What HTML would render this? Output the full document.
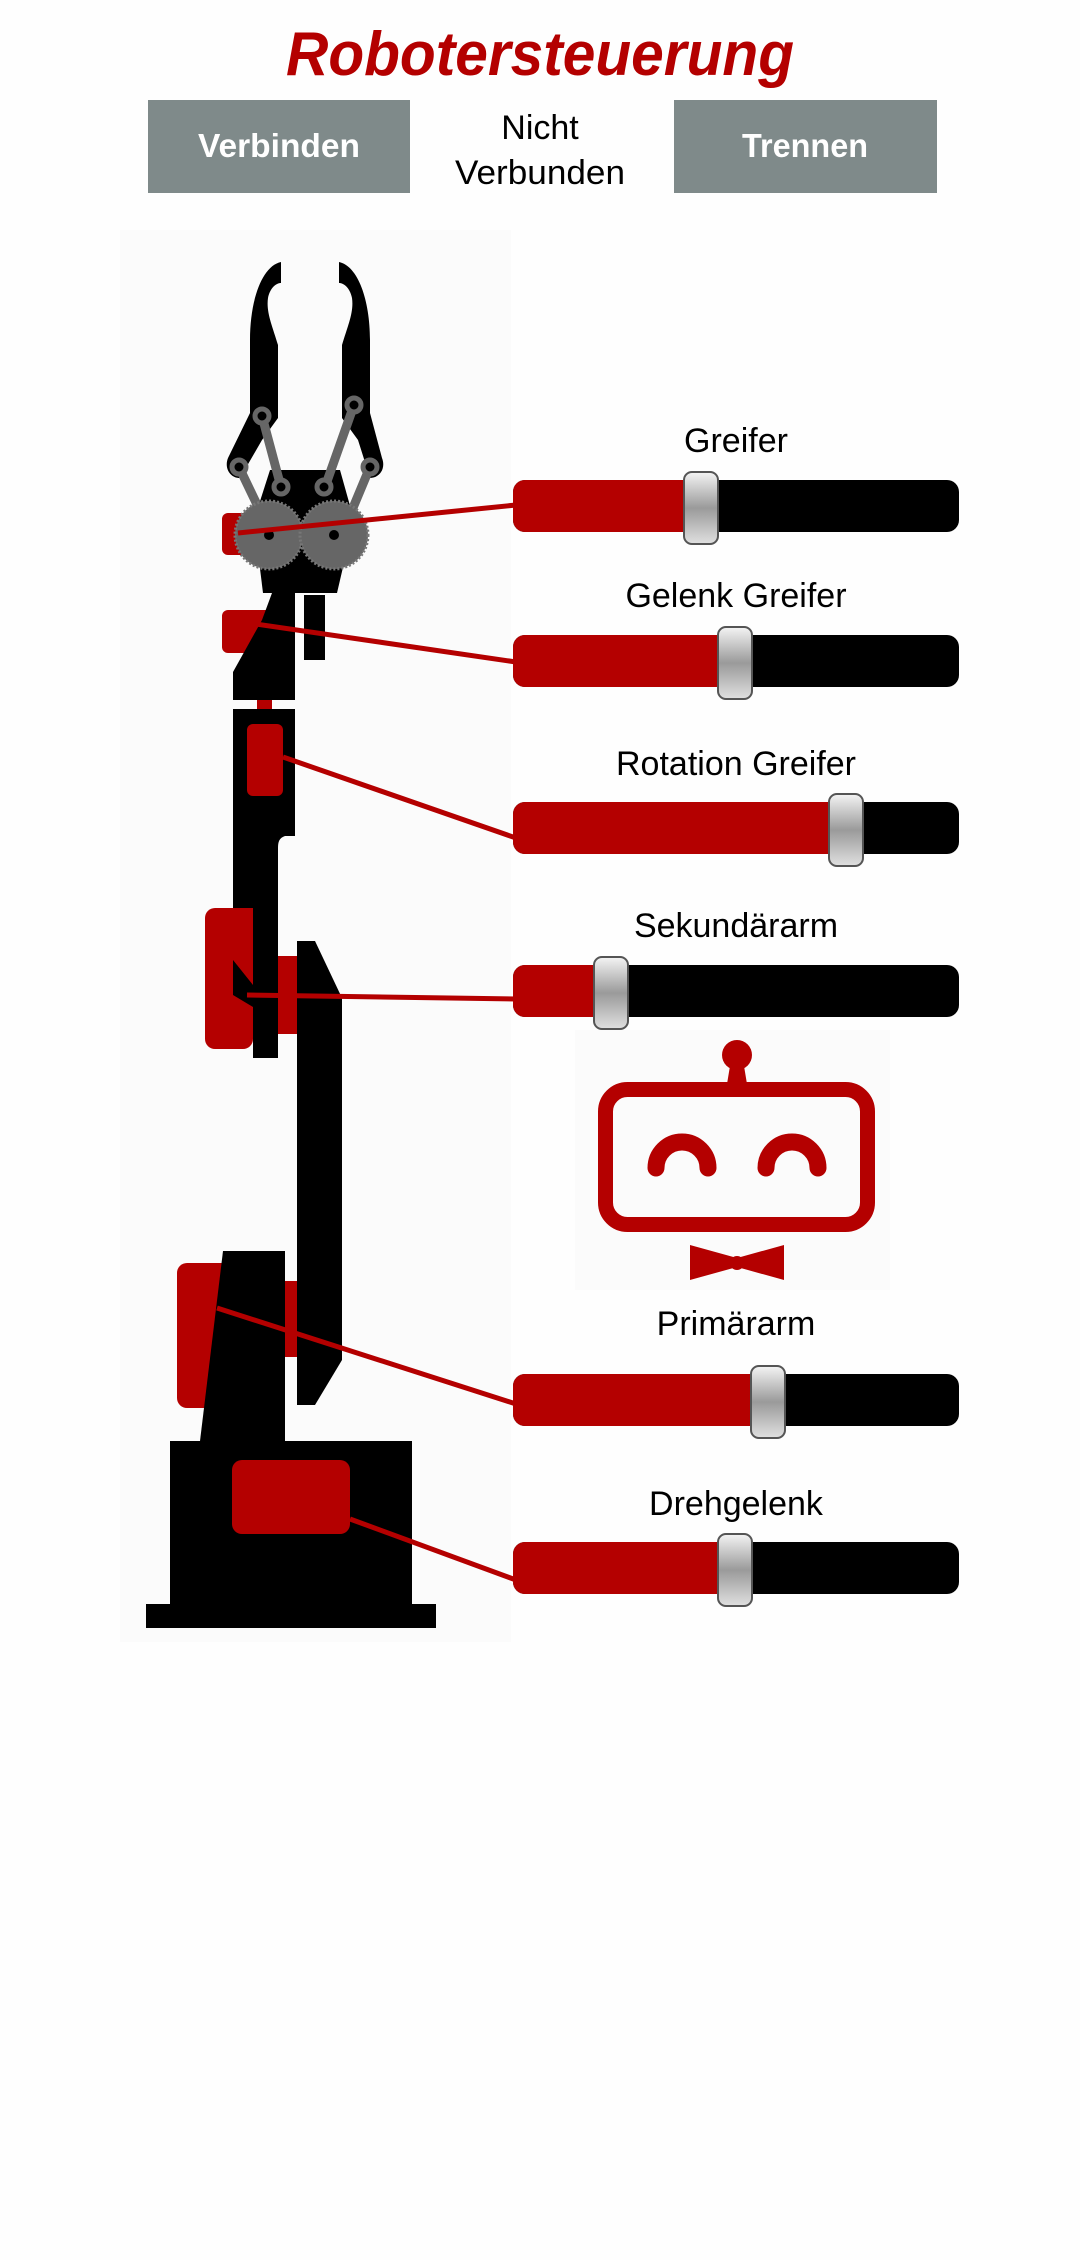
<!DOCTYPE html>
<html><head><meta charset="utf-8"><style>
html,body{margin:0;padding:0;background:#fefefe;width:1080px;height:2260px;overflow:hidden}
svg{display:block}
text{font-family:"Liberation Sans",sans-serif}
</style></head><body>
<svg width="1080" height="2260" viewBox="0 0 1080 2260" xmlns="http://www.w3.org/2000/svg">
<defs>
<linearGradient id="th" x1="0" y1="0" x2="0" y2="1">
<stop offset="0" stop-color="#f4f4f4"/><stop offset="0.5" stop-color="#9a9a9a"/><stop offset="1" stop-color="#e0e0e0"/>
</linearGradient>
</defs>
<rect width="1080" height="2260" fill="#fefefe"/>
<text x="540" y="75" text-anchor="middle" font-size="62" font-weight="bold" font-style="italic" fill="#b40000" textLength="508" lengthAdjust="spacingAndGlyphs">Robotersteuerung</text>

<rect x="148" y="100" width="262" height="93" fill="#7f8a8a"/>
<rect x="674" y="100" width="263" height="93" fill="#7f8a8a"/>
<text x="279" y="157" text-anchor="middle" font-size="33" font-weight="bold" fill="#fff" textLength="162" lengthAdjust="spacingAndGlyphs">Verbinden</text>
<text x="805" y="157" text-anchor="middle" font-size="33" font-weight="bold" fill="#fff" textLength="126" lengthAdjust="spacingAndGlyphs">Trennen</text>
<text x="540" y="139" text-anchor="middle" font-size="34" fill="#000">Nicht</text>
<text x="540" y="184" text-anchor="middle" font-size="34" fill="#000" textLength="170" lengthAdjust="spacingAndGlyphs">Verbunden</text>

<rect x="120" y="230" width="391" height="1412" fill="#fbfbfb"/>
<rect x="575" y="1030" width="315" height="260" fill="#fbfbfb"/>

<!-- gripper fingers -->
<path d="M281,262 C262,266 250,300 250,340 L250,413 L228,458 C224,468 230,478 240,478 L262,440 L278,418 L278,345 C272,325 266,312 268,298 C270,288 276,283 281,283 Z" fill="#000"/>
<path d="M339,262 C358,266 370,300 370,340 L370,413 L382,458 C386,468 380,478 370,478 L358,440 L342,418 L342,345 C348,325 354,312 352,298 C350,288 344,283 339,283 Z" fill="#000"/>
<!-- gear body -->
<polygon points="270,470 340,470 354,520 337,593 263,593 254,520" fill="#000"/>
<!-- linkage -->
<g stroke="#666" stroke-width="9" stroke-linecap="round">
<line x1="262" y1="416" x2="281" y2="487"/><line x1="354" y1="405" x2="325" y2="487"/>
<line x1="239" y1="467" x2="262" y2="515"/><line x1="370" y1="467" x2="350" y2="515"/>
</g>
<g fill="#000" stroke="#666" stroke-width="5">
<circle cx="262" cy="416" r="7"/><circle cx="354" cy="405" r="7"/><circle cx="239" cy="467" r="7"/><circle cx="370" cy="467" r="7"/><circle cx="281" cy="487" r="7"/><circle cx="324" cy="487" r="7"/>
</g>
<rect x="222" y="513" width="34" height="42" rx="6" fill="#b40000"/>
<circle cx="269" cy="535" r="34" fill="#666" stroke="#777" stroke-width="3" stroke-dasharray="2 2"/>
<circle cx="334" cy="535" r="34" fill="#666" stroke="#777" stroke-width="3" stroke-dasharray="2 2"/>
<circle cx="269" cy="535" r="5" fill="#000"/><circle cx="334" cy="535" r="5" fill="#000"/>
<!-- wrist -->
<rect x="222" y="610" width="60" height="43" rx="6" fill="#b40000"/>
<polygon points="272,593 295,593 295,700 233,700 233,672 262,620" fill="#000"/>
<rect x="304" y="595" width="21" height="65" fill="#000"/>
<rect x="257" y="700" width="15" height="10" fill="#b40000"/>
<!-- column -->
<path d="M233,709 L295,709 L295,836 L285,836 C279,838 278,842 278,848 L278,1058 L253,1058 L253,1007 L233,995 Z" fill="#000"/>
<rect x="247" y="724" width="36" height="72" rx="6" fill="#b40000"/>
<rect x="205" y="908" width="48" height="141" rx="10" fill="#b40000"/>
<polygon points="233,908 233,995 253,1007 253,908" fill="#b40000"/>
<rect x="278" y="956" width="19" height="78" fill="#b40000"/>
<polygon points="233,960 253,985 253,1007 233,995" fill="#000"/>
<!-- secondary arm -->
<polygon points="297,941 315,941 342,998 342,1360 315,1405 297,1405" fill="#000"/>
<!-- primary -->
<rect x="177" y="1263" width="60" height="145" rx="10" fill="#b40000"/>
<rect x="285" y="1281" width="12" height="76" fill="#b40000"/>
<polygon points="223,1251 285,1251 285,1441 200,1441" fill="#000"/>
<!-- base -->
<rect x="170" y="1441" width="242" height="163" fill="#000"/>
<rect x="146" y="1604" width="290" height="24" fill="#000"/>
<rect x="232" y="1460" width="118" height="74" rx="10" fill="#b40000"/>

<!-- connectors -->
<g stroke="#b40000" stroke-width="5">
<line x1="238" y1="533" x2="516" y2="505"/>
<line x1="242" y1="622" x2="516" y2="662"/>
<line x1="283" y1="757" x2="516" y2="838"/>
<line x1="247" y1="995" x2="516" y2="999"/>
<line x1="217" y1="1308" x2="516" y2="1404"/>
<line x1="350" y1="1519" x2="516" y2="1580"/>
</g>

<!-- sliders -->
<g font-size="34" text-anchor="middle" fill="#000">
<text x="736" y="452">Greifer</text>
<text x="736" y="607">Gelenk Greifer</text>
<text x="736" y="775">Rotation Greifer</text>
<text x="736" y="937">Sekundärarm</text>
<text x="736" y="1335">Primärarm</text>
<text x="736" y="1515">Drehgelenk</text>
</g>
<g>
<rect x="513" y="480" width="446" height="52" rx="12" fill="#000"/><path d="M525,480 H701 V532 H525 A12,12 0 0 1 513,520 V492 A12,12 0 0 1 525,480Z" fill="#b40000"/>
<rect x="513" y="635" width="446" height="52" rx="12" fill="#000"/><path d="M525,635 H735 V687 H525 A12,12 0 0 1 513,675 V647 A12,12 0 0 1 525,635Z" fill="#b40000"/>
<rect x="513" y="802" width="446" height="52" rx="12" fill="#000"/><path d="M525,802 H846 V854 H525 A12,12 0 0 1 513,842 V814 A12,12 0 0 1 525,802Z" fill="#b40000"/>
<rect x="513" y="965" width="446" height="52" rx="12" fill="#000"/><path d="M525,965 H611 V1017 H525 A12,12 0 0 1 513,1005 V977 A12,12 0 0 1 525,965Z" fill="#b40000"/>
<rect x="513" y="1374" width="446" height="52" rx="12" fill="#000"/><path d="M525,1374 H768 V1426 H525 A12,12 0 0 1 513,1414 V1386 A12,12 0 0 1 525,1374Z" fill="#b40000"/>
<rect x="513" y="1542" width="446" height="52" rx="12" fill="#000"/><path d="M525,1542 H735 V1594 H525 A12,12 0 0 1 513,1582 V1554 A12,12 0 0 1 525,1542Z" fill="#b40000"/>
</g>
<g stroke="#555" stroke-width="2">
<rect x="684" y="472" width="34" height="72" rx="8" fill="url(#th)"/>
<rect x="718" y="627" width="34" height="72" rx="8" fill="url(#th)"/>
<rect x="829" y="794" width="34" height="72" rx="8" fill="url(#th)"/>
<rect x="594" y="957" width="34" height="72" rx="8" fill="url(#th)"/>
<rect x="751" y="1366" width="34" height="72" rx="8" fill="url(#th)"/>
<rect x="718" y="1534" width="34" height="72" rx="8" fill="url(#th)"/>
</g>

<!-- robot logo -->
<g fill="#b40000">
<circle cx="737" cy="1055" r="15"/>
<polygon points="730,1066 744,1066 747,1084 727,1084"/>
<polygon points="690,1245 737,1258 784,1245 784,1280 737,1267 690,1280"/>
<circle cx="737" cy="1263" r="7"/>
</g>
<rect x="605.5" y="1089.5" width="262" height="135" rx="22" fill="none" stroke="#b40000" stroke-width="15"/>
<g fill="none" stroke="#b40000" stroke-width="17" stroke-linecap="round">
<path d="M656,1168 A26,26 0 0 1 708,1168"/>
<path d="M766,1168 A26,26 0 0 1 818,1168"/>
</g>
</svg>
</body></html>
